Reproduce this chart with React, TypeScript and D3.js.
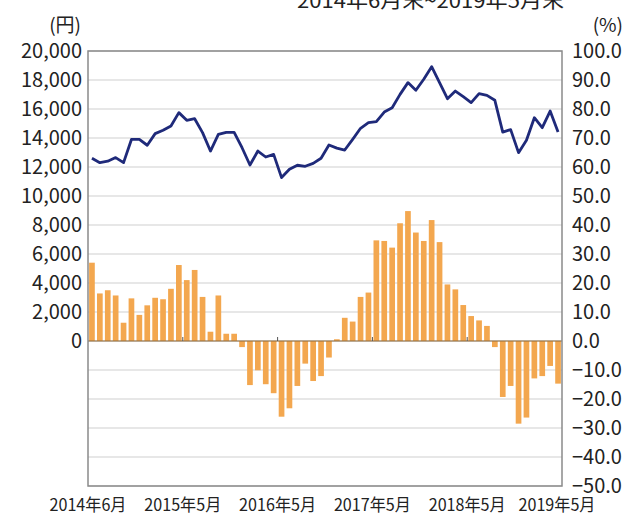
import React from "react";
import * as d3 from "d3";

// monthly, 2014年6月末 ~ 2019年5月末
const months = d3.timeMonth.range(new Date(2014, 5, 1), new Date(2019, 5, 1));

// 株価 (円), left axis
const prices = [
  12600, 12300, 12400, 12650, 12300, 13900, 13900, 13500, 14300, 14530,
  14830, 15750, 15220, 15330, 14370, 13100, 14250, 14390, 14390, 13330,
  12140, 13100, 12690, 12870, 11270, 11840, 12120, 12050, 12250, 12600,
  13520, 13300, 13170, 13910, 14670, 15060, 15130, 15790, 16090, 17010,
  17820, 17290, 18050, 18920, 17820, 16710, 17240, 16850, 16440, 17060,
  16940, 16600, 14410, 14580, 12990, 13840, 15400, 14710, 15860, 14410,
];

// 前年同月比 (%), right axis
const changes = [
  27.0, 16.4, 17.5, 15.7, 6.3, 14.7, 9.0, 12.3, 14.9, 14.4,
  18.0, 26.2, 21.0, 24.5, 15.2, 3.2, 15.7, 2.5, 2.5, -2.1,
  -15.2, -10.1, -14.9, -18.0, -26.1, -23.2, -15.5, -7.8, -13.8, -12.1,
  -5.7, 0.6, 8.0, 6.7, 15.2, 16.7, 34.7, 34.5, 32.2, 40.6,
  44.8, 37.4, 34.5, 41.7, 34.1, 19.5, 17.8, 12.4, 8.6, 7.1,
  5.2, -2.1, -19.3, -15.5, -28.5, -26.4, -12.9, -12.1, -8.6, -14.7,
];

const xLabels = ["2014年6月", "2015年5月", "2016年5月", "2017年5月", "2018年5月", "2019年5月"];
const leftTicks = d3.range(0, 20001, 2000);
const rightTicks = d3.range(-50, 101, 10);
const title = "2014年6月末~2019年5月末";

const W = 631;
const H = 516;
const left = 88;
const right = 562;
const top = 51;
const bottom = 486;
const font = "'Noto Sans CJK JP', 'Noto Sans', sans-serif";

export default function App() {
  const x = d3
    .scaleBand<number>()
    .domain(d3.range(months.length))
    .range([left, right])
    .paddingInner(0.28)
    .paddingOuter(0.14);
  const yL = d3.scaleLinear().domain([-10000, 20000]).range([bottom, top]);
  const yR = d3.scaleLinear().domain([-50, 100]).range([bottom, top]);
  const step = x.step();

  const line = d3
    .line<number>()
    .x((_, i) => (x(i) as number) + x.bandwidth() / 2)
    .y((d) => yL(d));

  const fmtL = d3.format(",");
  const fmtR = d3.format(".1f");
  const zero = yR(0);

  return (
    <svg
      width={W}
      height={H}
      style={{ position: "absolute", left: 0, top: 0, background: "#fff" }}
      fontFamily={font}
    >
      {/* grid */}
      {rightTicks.map((t) => (
        <line key={t} x1={left} x2={right} y1={yR(t)} y2={yR(t)} stroke="#d0d0d0" strokeWidth={1.2} />
      ))}

      {/* bars */}
      {changes.map((v, i) => (
        <rect
          key={i}
          x={x(i)}
          width={x.bandwidth()}
          y={Math.min(yR(v), zero)}
          height={Math.abs(yR(v) - zero)}
          fill="#f3a74f"
        />
      ))}

      {/* zero line and yearly ticks */}
      <line x1={left} x2={right} y1={zero} y2={zero} stroke="#8c6a3e" strokeWidth={1.2} />
      {d3.range(1, 5).map((k) => (
        <line
          key={k}
          x1={left + k * 12 * step}
          x2={left + k * 12 * step}
          y1={zero}
          y2={zero - 4}
          stroke="#555"
          strokeWidth={1}
        />
      ))}

      {/* frame */}
      <rect x={left} y={top} width={right - left} height={bottom - top} fill="none" stroke="#8a8a8a" strokeWidth={1.5} />

      {/* price line */}
      <path d={line(prices) || ""} fill="none" stroke="#1f2a7a" strokeWidth={2.8} strokeLinejoin="round" />

      {/* left axis */}
      {leftTicks.map((t) => (
        <text key={t} x={82} y={yL(t)} dy="0.36em" textAnchor="end" fontSize={20} fill="#222">
          {fmtL(t)}
        </text>
      ))}
      <text x={81} y={25} dy="0.36em" textAnchor="end" fontSize={19} fill="#222">
        (円)
      </text>

      {/* right axis */}
      {rightTicks.map((t) => (
        <text key={t} x={572} y={yR(t)} dy="0.36em" textAnchor="start" fontSize={20} fill="#222">
          {fmtR(t)}
        </text>
      ))}
      <text x={623} y={25} dy="0.36em" textAnchor="end" fontSize={19} fill="#222">
        (%)
      </text>

      {/* x labels */}
      {xLabels.map((s, k) => (
        <text
          key={s}
          x={Math.min(left + k * 12 * step, 557)}
          y={505}
          dy="0.34em"
          textAnchor="middle"
          fontSize={17}
          fill="#222"
          textLength={77}
          lengthAdjust="spacingAndGlyphs"
        >
          {s}
        </text>
      ))}

      {/* title, partly cut at top */}
      <text x={564} y={8} textAnchor="end" fontSize={20} fill="#222" textLength={267} lengthAdjust="spacingAndGlyphs">
        {title}
      </text>
    </svg>
  );
}
